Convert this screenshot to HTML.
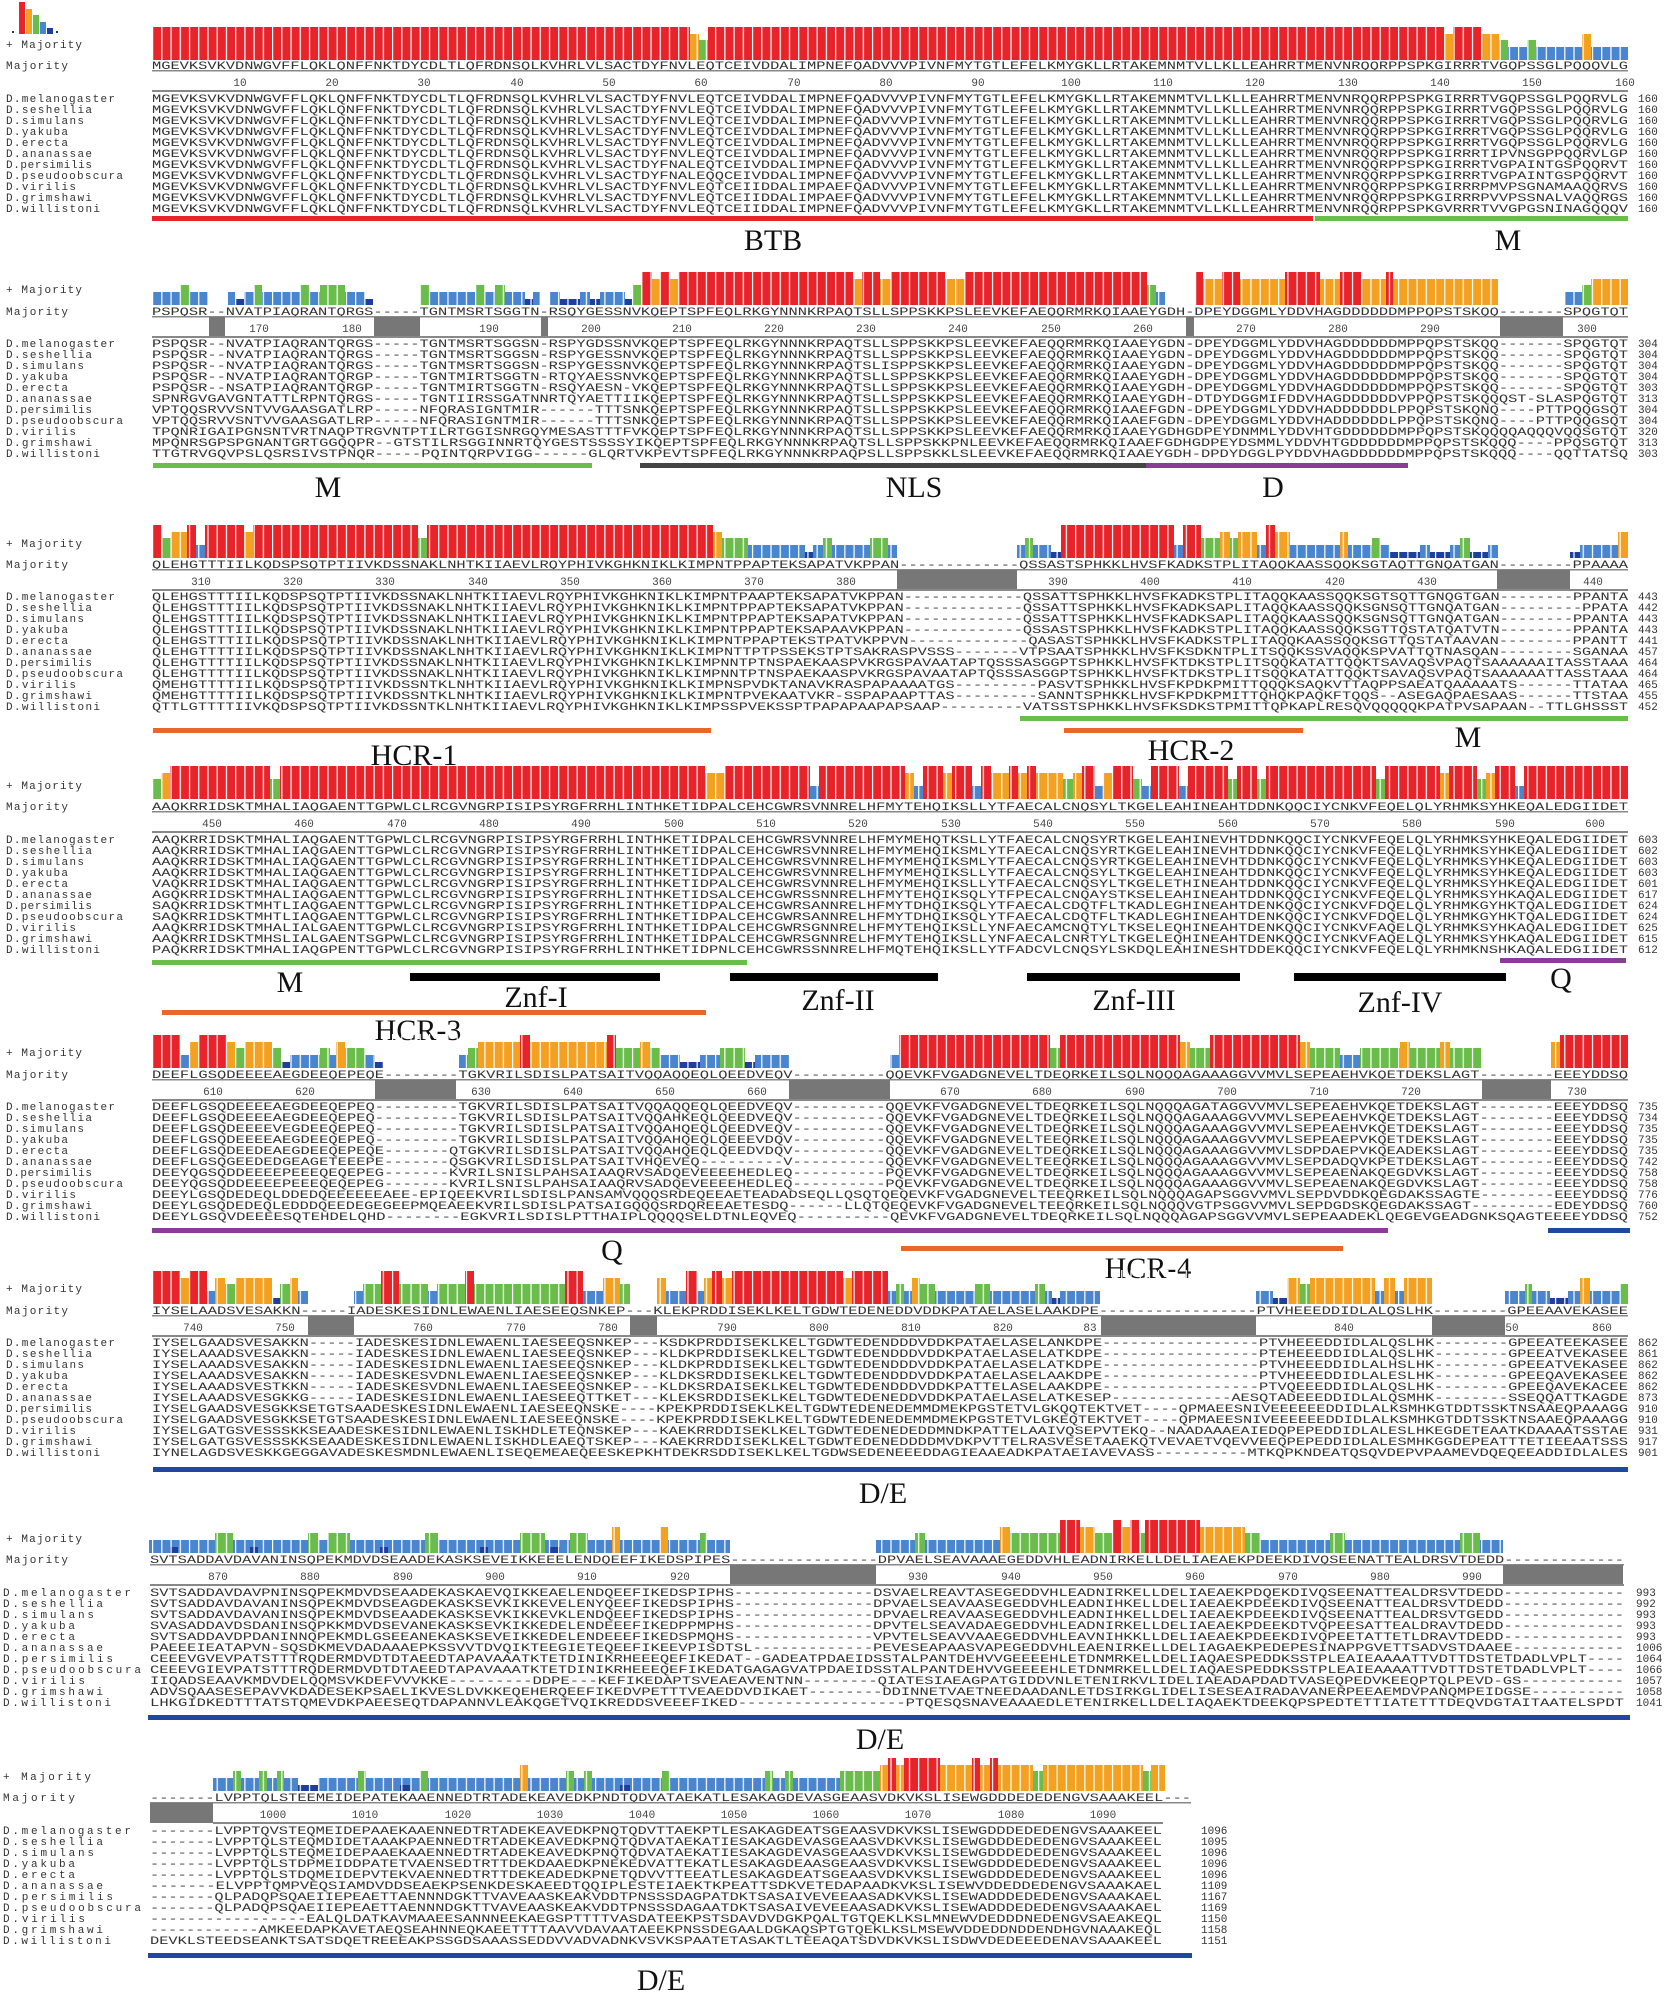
<!DOCTYPE html>
<html><head><meta charset="utf-8"><style>
html,body{margin:0;padding:0;background:#fff}
svg{display:block}
.s{font-family:"Liberation Mono",monospace;font-size:11px;fill:#333}
.n{font-family:"Liberation Mono",monospace;font-size:11px;fill:#444;text-anchor:middle}
.lab{font-family:"Liberation Serif",serif;font-size:30px;fill:#111;text-anchor:middle}
.r{fill:#e8232a}.o{fill:#f4a020}.g{fill:#6abd4b}.b{fill:#4a86d0}.d{fill:#1f3f9e}
.gap{fill:#777}
</style></head><body>
<svg width="1671" height="1999" viewBox="0 0 1671 1999" xmlns="http://www.w3.org/2000/svg">
<defs><pattern id="p" x="152" y="0" width="9.23" height="40" patternUnits="userSpaceOnUse"><rect x="0" y="0" width="1.2" height="40" fill="#fff"/></pattern></defs>
<rect width="1671" height="1999" fill="#fff"/>
<rect x="19" y="2" width="6" height="32" class="r"/><rect x="26" y="9" width="6" height="25" class="o"/><rect x="33" y="15" width="6" height="19" class="g"/><rect x="40" y="22" width="6" height="12" class="b"/><rect x="47" y="28" width="6" height="6" class="d"/>
<rect x="12" y="31" width="2" height="2" fill="#333"/><rect x="56" y="31" width="2" height="2" fill="#333"/>

<!-- ================= BLOCK 1 ================= -->
<g transform="translate(0,60)">
<rect x="152" y="-33" width="538" height="33" class="r"/><rect x="690" y="-26" width="9" height="26" class="o"/><rect x="699" y="-20" width="9" height="20" class="g"/><rect x="708" y="-33" width="736" height="33" class="r"/><rect x="1444" y="-26" width="9" height="26" class="o"/><rect x="1453" y="-33" width="28" height="33" class="r"/><rect x="1481" y="-26" width="18" height="26" class="o"/><rect x="1499" y="-20" width="9" height="20" class="g"/><rect x="1508" y="-13" width="19" height="13" class="b"/><rect x="1527" y="-20" width="9" height="20" class="g"/><rect x="1536" y="-13" width="46" height="13" class="b"/><rect x="1582" y="-26" width="9" height="26" class="o"/><rect x="1591" y="-13" width="37" height="13" class="b"/>
<rect x="152" y="-34" width="1476" height="34" fill="url(#p)"/>
</g>
<text x="6" y="48" class="s" textLength="76">+ Majority</text>
<text x="6" y="69" class="s" textLength="62">Majority</text>
<text x="152" y="69" class="s" textLength="1476" lengthAdjust="spacingAndGlyphs">MGEVKSVKVDNWGVFFLQKLQNFFNKTDYCDLTLQFRDNSQLKVHRLVLSACTDYFNVLEQTCEIVDDALIMPNEFQADVVVPIVNFMYTGTLEFELKMYGKLLRTAKEMNMTVLLKLLEAHRRTMENVNRQQRPPSPKGIRRRTVGQPSSGLPQQQVLG</text>
<rect x="152" y="70" width="1476" height="1.5" fill="#888"/>
<rect x="152" y="90" width="1476" height="2" fill="#888"/>
<g class="n"><text x="240" y="86">10</text><text x="332" y="86">20</text><text x="424" y="86">30</text><text x="517" y="86">40</text><text x="609" y="86">50</text><text x="701" y="86">60</text><text x="794" y="86">70</text><text x="886" y="86">80</text><text x="978" y="86">90</text><text x="1071" y="86">100</text><text x="1163" y="86">110</text><text x="1255" y="86">120</text><text x="1348" y="86">130</text><text x="1440" y="86">140</text><text x="1532" y="86">150</text><text x="1625" y="86">160</text></g>
<g class="s">
<text x="6" y="102" textLength="109">D.melanogaster</text><text x="6" y="113" textLength="86">D.seshellia</text><text x="6" y="124" textLength="78">D.simulans</text><text x="6" y="135" textLength="62">D.yakuba</text><text x="6" y="146" textLength="62">D.erecta</text><text x="6" y="157" textLength="86">D.ananassae</text><text x="6" y="168" textLength="86">D.persimilis</text><text x="6" y="179" textLength="117">D.pseudoobscura</text><text x="6" y="190" textLength="70">D.virilis</text><text x="6" y="201" textLength="86">D.grimshawi</text><text x="6" y="212" textLength="94">D.willistoni</text>
</g>
<g class="s">
<text x="152" y="102" textLength="1476" lengthAdjust="spacingAndGlyphs">MGEVKSVKVDNWGVFFLQKLQNFFNKTDYCDLTLQFRDNSQLKVHRLVLSACTDYFNVLEQTCEIVDDALIMPNEFQADVVVPIVNFMYTGTLEFELKMYGKLLRTAKEMNMTVLLKLLEAHRRTMENVNRQQRPPSPKGIRRRTVGQPSSGLPQQRVLG</text>
<text x="152" y="113" textLength="1476" lengthAdjust="spacingAndGlyphs">MGEVKSVKVDNWGVFFLQKLQNFFNKTDYCDLTLQFRDNSQLKVHRLVLSACTDYFNVLEQTCEIVDDALIMPNEFQADVVVPIVNFMYTGTLEFELKMYGKLLRTAKEMNMTVLLKLLEAHRRTMENVNRQQRPPSPKGIRRRTVGQPSSGLPQQRVLG</text>
<text x="152" y="124" textLength="1476" lengthAdjust="spacingAndGlyphs">MGEVKSVKVDNWGVFFLQKLQNFFNKTDYCDLTLQFRDNSQLKVHRLVLSACTDYFNVLEQTCEIVDDALIMPNEFQADVVVPIVNFMYTGTLEFELKMYGKLLRTAKEMNMTVLLKLLEAHRRTMENVNRQQRPPSPKGIRRRTVGQPSSGLPQQRVLG</text>
<text x="152" y="135" textLength="1476" lengthAdjust="spacingAndGlyphs">MGEVKSVKVDNWGVFFLQKLQNFFNKTDYCDLTLQFRDNSQLKVHRLVLSACTDYFNVLEQTCEIVDDALIMPNEFQADVVVPIVNFMYTGTLEFELKMYGKLLRTAKEMNMTVLLKLLEAHRRTMENVNRQQRPPSPKGIRRRTVGQPSSGLPQQRVLG</text>
<text x="152" y="146" textLength="1476" lengthAdjust="spacingAndGlyphs">MGEVKSVKVDNWGVFFLQKLQNFFNKTDYCDLTLQFRDNSQLKVHRLVLSACTDYFNVLEQTCEIVDDALIMPNEFQADVVVPIVNFMYTGTLEFELKMYGKLLRTAKEMNMTVLLKLLEAHRRTMENVNRQQRPPSPKGIRRRTVGQPSSGLPQQRVLG</text>
<text x="152" y="157" textLength="1476" lengthAdjust="spacingAndGlyphs">MGEVKSVKVDNWGVFFLQKLQNFFNKTDYCDLTLQFRDNSQLKVHRLVLSACTDYFNVLEQTCEIVDDALIMPNEFQADVVVPIVNFMYTGTLEFELKMYGKLLRTAKEMNMTVLLKLLEAHRRTMENVNRQQRPPSPKGIRRRTIPVNSGPPQQRVLGP</text>
<text x="152" y="168" textLength="1476" lengthAdjust="spacingAndGlyphs">MGEVKSVKVDNWGVFFLQKLQNFFNKTDYCDLTLQFRDNSQLKVHRLVLSACTDYFNALEQTCEIVDDALIMPNEFQADVVVPIVNFMYTGTLEFELKMYGKLLRTAKEMNMTVLLKLLEAHRRTMENVNRQQRPPSPKGIRRRTVGPAINTGSPQQRVT</text>
<text x="152" y="179" textLength="1476" lengthAdjust="spacingAndGlyphs">MGEVKSVKVDNWGVFFLQKLQNFFNKTDYCDLTLQFRDNSQLKVHRLVLSACTDYFNALEQQCEIVDDALIMPNEFQADVVVPIVNFMYTGTLEFELKMYGKLLRTAKEMNMTVLLKLLEAHRRTMENVNRQQRPPSPKGIRRRTVGPAINTGSPQQRVT</text>
<text x="152" y="190" textLength="1476" lengthAdjust="spacingAndGlyphs">MGEVKSVKVDNWGVFFLQKLQNFFNKTDYCDLTLQFRDNSQLKVHRLVLSACTDYFNVLEQTCEIIDDALIMPAEFQADVVVPIVNFMYTGTLEFELKMYGKLLRTAKEMNMTVLLKLLEAHRRTMENVNRQQRPPSPKGIRRRPMVPSGNAMAAQQRVS</text>
<text x="152" y="201" textLength="1476" lengthAdjust="spacingAndGlyphs">MGEVKSVKVDNWGVFFLQKLQNFFNKTDYCDLTLQFRDNSQLKVHRLVLSACTDYFNVLEQTCEIIDDALIMPAEFQADVVVPIVNFMYTGTLEFELKMYGKLLRTAKEMNMTVLLKLLEAHRRTMENVNRQQRPPSPKGIRRRPVVPSSNALVAQQRGS</text>
<text x="152" y="212" textLength="1476" lengthAdjust="spacingAndGlyphs">MGEVKSVKVDNWGVFFLQKLQNFFNKTDYCDLTLQFRDNSQLKVHRLVLSACTDYFNVLEQTCEIIDDALIMPNEFQADVVVPIVNFMYTGTLEFELKMYGKLLRTAKEMNMTVLLKLLEAHRRTMENVNRQQRPPSPKGVRRRTVVGPGSNINAGQQQV</text>
</g>
<g class="s"><text x="1638" y="102">160</text><text x="1638" y="113">160</text><text x="1638" y="124">160</text><text x="1638" y="135">160</text><text x="1638" y="146">160</text><text x="1638" y="157">160</text><text x="1638" y="168">160</text><text x="1638" y="179">160</text><text x="1638" y="190">160</text><text x="1638" y="201">160</text><text x="1638" y="212">160</text></g>
<rect x="152" y="216" width="1161" height="5" fill="#e8232a"/><rect x="1315" y="216" width="313" height="5" fill="#6abd4b"/>
<text x="773" y="250" class="lab">BTB</text><text x="1508" y="250" class="lab">M</text>

<!-- ================= BLOCK 2 ================= -->
<g transform="translate(0,305)">
<rect x="153" y="-13" width="27" height="13" class="b"/><rect x="180" y="-20" width="10" height="20" class="g"/><rect x="190" y="-13" width="18" height="13" class="b"/>
<rect x="228" y="-13" width="8" height="13" class="b"/><rect x="236" y="-6" width="8" height="6" class="d"/><rect x="244" y="-13" width="10" height="13" class="b"/><rect x="254" y="-20" width="8" height="20" class="g"/><rect x="262" y="-13" width="38" height="13" class="b"/><rect x="300" y="-20" width="10" height="20" class="g"/><rect x="310" y="-13" width="10" height="13" class="b"/><rect x="320" y="-20" width="25" height="20" class="g"/><rect x="345" y="-13" width="20" height="13" class="b"/><rect x="365" y="-6" width="8" height="6" class="d"/>
<rect x="420" y="-20" width="10" height="20" class="g"/><rect x="430" y="-13" width="45" height="13" class="b"/><rect x="475" y="-20" width="10" height="20" class="g"/><rect x="485" y="-13" width="10" height="13" class="b"/><rect x="495" y="-20" width="10" height="20" class="g"/><rect x="505" y="-13" width="20" height="13" class="b"/><rect x="525" y="-6" width="8" height="6" class="d"/><rect x="533" y="-13" width="7" height="13" class="b"/>
<rect x="550" y="-13" width="10" height="13" class="b"/><rect x="560" y="-6" width="20" height="6" class="d"/><rect x="580" y="-13" width="10" height="13" class="b"/><rect x="590" y="-6" width="10" height="6" class="d"/><rect x="600" y="-13" width="25" height="13" class="b"/><rect x="625" y="-6" width="8" height="6" class="d"/><rect x="633" y="-20" width="9" height="20" class="g"/>
<rect x="642" y="-33" width="10" height="33" class="r"/><rect x="652" y="-26" width="8" height="26" class="o"/><rect x="660" y="-33" width="10" height="33" class="r"/><rect x="670" y="-26" width="8" height="26" class="o"/><rect x="678" y="-33" width="175" height="33" class="r"/><rect x="853" y="-26" width="9" height="26" class="o"/><rect x="862" y="-33" width="18" height="33" class="r"/><rect x="880" y="-26" width="11" height="26" class="o"/><rect x="891" y="-33" width="54" height="33" class="r"/><rect x="945" y="-26" width="20" height="26" class="o"/><rect x="965" y="-33" width="182" height="33" class="r"/><rect x="1147" y="-20" width="9" height="20" class="g"/><rect x="1156" y="-13" width="9" height="13" class="b"/>
<rect x="1195" y="-33" width="8" height="33" class="r"/><rect x="1203" y="-26" width="19" height="26" class="o"/><rect x="1222" y="-33" width="18" height="33" class="r"/><rect x="1240" y="-26" width="45" height="26" class="o"/><rect x="1285" y="-33" width="35" height="33" class="r"/><rect x="1320" y="-26" width="20" height="26" class="o"/><rect x="1340" y="-33" width="22" height="33" class="r"/><rect x="1362" y="-26" width="24" height="26" class="o"/><rect x="1386" y="-33" width="7" height="33" class="r"/><rect x="1393" y="-26" width="105" height="26" class="o"/>
<rect x="1565" y="-13" width="17" height="13" class="b"/><rect x="1582" y="-20" width="9" height="20" class="g"/><rect x="1591" y="-26" width="37" height="26" class="o"/>
<rect x="152" y="-34" width="1476" height="34" fill="url(#p)"/>
</g>
<text x="6" y="293" class="s" textLength="76">+ Majority</text>
<text x="6" y="315" class="s" textLength="62">Majority</text>
<text x="152" y="315" class="s" textLength="1476" lengthAdjust="spacingAndGlyphs">PSPQSR--NVATPIAQRANTQRGS-----TGNTMSRTSGGTN-RSQYGESSNVKQEPTSPFEQLRKGYNNNKRPAQTSLLSPPSKKPSLEEVKEFAEQQRMRKQIAAEYGDH-DPEYDGGMLYDDVHAGDDDDDDMPPQPSTSKQQ-------SPQGTQT</text>
<rect x="152" y="316" width="1476" height="1.5" fill="#888"/>
<rect x="209" y="317" width="16" height="20" class="gap"/><rect x="374" y="317" width="46" height="20" class="gap"/><rect x="541" y="317" width="7" height="20" class="gap"/><rect x="1186" y="317" width="8" height="20" class="gap"/><rect x="1500" y="317" width="63" height="20" class="gap"/>
<rect x="152" y="336" width="1476" height="2" fill="#888"/>
<g class="n"><text x="259" y="332">170</text><text x="352" y="332">180</text><text x="489" y="332">190</text><text x="591" y="332">200</text><text x="682" y="332">210</text><text x="774" y="332">220</text><text x="866" y="332">230</text><text x="958" y="332">240</text><text x="1051" y="332">250</text><text x="1143" y="332">260</text><text x="1246" y="332">270</text><text x="1338" y="332">280</text><text x="1430" y="332">290</text><text x="1587" y="332">300</text></g>
<g class="s">
<text x="6" y="347" textLength="109">D.melanogaster</text><text x="6" y="358" textLength="86">D.seshellia</text><text x="6" y="369" textLength="78">D.simulans</text><text x="6" y="380" textLength="62">D.yakuba</text><text x="6" y="391" textLength="62">D.erecta</text><text x="6" y="402" textLength="86">D.ananassae</text><text x="6" y="413" textLength="86">D.persimilis</text><text x="6" y="424" textLength="117">D.pseudoobscura</text><text x="6" y="435" textLength="70">D.virilis</text><text x="6" y="446" textLength="86">D.grimshawi</text><text x="6" y="457" textLength="94">D.willistoni</text>
</g>
<g class="s">
<text x="152" y="347" textLength="1476" lengthAdjust="spacingAndGlyphs">PSPQSR--NVATPIAQRANTQRGS-----TGNTMSRTSGGSN-RSPYGDSSNVKQEPTSPFEQLRKGYNNNKRPAQTSLLSPPSKKPSLEEVKEFAEQQRMRKQIAAEYGDN-DPEYDGGMLYDDVHAGDDDDDDMPPQPSTSKQQ-------SPQGTQT</text>
<text x="152" y="358" textLength="1476" lengthAdjust="spacingAndGlyphs">PSPQSR--NVATPIAQRANTQRGS-----TGNTMSRTSGGSN-RSPYGESSNVKQEPTSPFEQLRKGYNNNKRPAQTSLLSPPSKKPSLEEVKEFAEQQRMRKQIAAEYGDN-DPEYDGGMLYDDVHAGDDDDDDMPPQPSTSKQQ-------SPQGTQT</text>
<text x="152" y="369" textLength="1476" lengthAdjust="spacingAndGlyphs">PSPQSR--NVATPIAQRANTQRGS-----TGNTMSRTSGGSN-RSPYGESSNVKQEPTSPFEQLRKGYNNNKRPAQTSLISPPSKKPSLEEVKEFAEQQRMRKQIAAEYGDN-DPEYDGGMLYDDVHAGDDDDDDMPPQPSTSKQQ-------SPQGTQT</text>
<text x="152" y="380" textLength="1476" lengthAdjust="spacingAndGlyphs">PSPQSR--NVATPIAQRANTQRGP-----TGNTMIRTSGGTN-RTQYAESSNVKQEPTSPFEQLRKGYNNNKRPAQTSLLSPPSKKPSLEEVKEFAEQQRMRKQIAAEYGDH-DPEYDGGMLYDDVHAGDDDDDDMPPQPSTSKQQ-------SPQGTQT</text>
<text x="152" y="391" textLength="1476" lengthAdjust="spacingAndGlyphs">PSPQSR--NSATPIAQRANTQRGP-----TGNTMIRTSGGTN-RSQYAESN-VKQEPTSPFEQLRKGYNNNKRPAQTSLLSPPSKKPSLEEVKEFAEQQRMRKQIAAEYGDH-DPEYDGGMLYDDVHAGDDDDDDMPPQPSTSKQQ-------SPQGTQT</text>
<text x="152" y="402" textLength="1476" lengthAdjust="spacingAndGlyphs">SPNRGVGAVGNTATTLRPNTQRGS-----TGNTIIRSSGATNNRTQYAETTIIKQEPTSPFEQLRKGYNNNKRPAQTSLLSPPSKKPSLEEVKEFAEQQRMRKQIAAEYGDH-DTDYDGGMIFDDVHAGDDDDDDVPPQPSTSKQQQST-SLASPQGTQT</text>
<text x="152" y="413" textLength="1476" lengthAdjust="spacingAndGlyphs">VPTQQSRVVSNTVVGAASGATLRP-----NFQRASIGNTMIR------TTTSNKQEPTSPFEQLRKGYNNNKRPAQTSLLSPPSKKPSLEEVKEFAEQQRMRKQIAAEFGDN-DPEYDGGMLYDDVHADDDDDDLPPQPSTSKQNQ----PTTPQQGSQT</text>
<text x="152" y="424" textLength="1476" lengthAdjust="spacingAndGlyphs">VPTQQSRVVSNTVVGAASGATLRP-----NFQRASIGNTMIR------TTTSNKQEPTSPFEQLRKGYNNNKRPAQTSLLSPPSKKPSLEEVKEFAEQQRMRKQIAAEFGDN-DPEYDGGMLYDDVHADDDDDDLPPQPSTSKQNQ----PTTPQQGSQT</text>
<text x="152" y="435" textLength="1476" lengthAdjust="spacingAndGlyphs">TPQNRIGAIPGNSNTVRTNAQPTRGVNTPTILRTGGISNRGQYMESASTTTFVKQEPTSPFEQLRKGYNNNKRPAQTSLLSPPSKKPSLEEVKEFAEQQRMRKQIAAEYGDHGDPEYDNMMLYDDVHTGDDDDDDMPPQPSTSKQQQQAQQQVQQSGTQT</text>
<text x="152" y="446" textLength="1476" lengthAdjust="spacingAndGlyphs">MPQNRSGPSPGNANTGRTGGQQPR--GTSTILRSGGINNRTQYGESTSSSSYIKQEPTSPFEQLRKGYNNNKRPAQTSLLSPPSKKPNLEEVKEFAEQQRMRKQIAAEFGDHGDPEYDSMMLYDDVHTGDDDDDDMPPQPSTSKQQQ----PPQSGTQT</text>
<text x="152" y="457" textLength="1476" lengthAdjust="spacingAndGlyphs">TTGTRVGQVPSLQSRSIVSTPNQR-----PQINTQRPVIGG------GLQRTVKPEVTSPFEQLRKGYNNNKRPAQPSLLSPPSKKLSLEEVKEFAEQQRMRKQIAAEYGDH-DPDYDGGLPYDDVHAGDDDDDDMPPQPSTSKQQQ----QQTTATSQ</text>
</g>
<g class="s"><text x="1638" y="347">304</text><text x="1638" y="358">304</text><text x="1638" y="369">304</text><text x="1638" y="380">304</text><text x="1638" y="391">303</text><text x="1638" y="402">313</text><text x="1638" y="413">304</text><text x="1638" y="424">304</text><text x="1638" y="435">320</text><text x="1638" y="446">313</text><text x="1638" y="457">303</text></g>
<rect x="153" y="463" width="439" height="5" fill="#6abd4b"/><rect x="640" y="463" width="506" height="5" fill="#444"/><rect x="1146" y="463" width="262" height="5" fill="#8a3d96"/>
<text x="328" y="497" class="lab">M</text><text x="914" y="497" class="lab">NLS</text><text x="1273" y="497" class="lab">D</text>

<!-- ================= BLOCK 3 ================= -->
<g transform="translate(0,558)">
<rect x="153" y="-33" width="9" height="33" class="r"/><rect x="162" y="-20" width="9" height="20" class="g"/><rect x="171" y="-26" width="16" height="26" class="o"/><rect x="187" y="-33" width="9" height="33" class="r"/><rect x="196" y="-13" width="9" height="13" class="b"/><rect x="205" y="-33" width="39" height="33" class="r"/><rect x="244" y="-26" width="9" height="26" class="o"/><rect x="253" y="-33" width="165" height="33" class="r"/><rect x="418" y="-20" width="9" height="20" class="g"/><rect x="427" y="-33" width="286" height="33" class="r"/><rect x="713" y="-26" width="9" height="26" class="o"/><rect x="722" y="-20" width="26" height="20" class="g"/><rect x="748" y="-13" width="57" height="13" class="b"/><rect x="805" y="-6" width="8" height="6" class="d"/><rect x="813" y="-13" width="10" height="13" class="b"/><rect x="823" y="-20" width="9" height="20" class="g"/><rect x="832" y="-13" width="38" height="13" class="b"/><rect x="870" y="-20" width="18" height="20" class="g"/><rect x="888" y="-13" width="9" height="13" class="b"/>
<rect x="1017" y="-13" width="8" height="13" class="b"/><rect x="1025" y="-20" width="8" height="20" class="g"/><rect x="1033" y="-13" width="18" height="13" class="b"/><rect x="1051" y="-6" width="10" height="6" class="d"/><rect x="1061" y="-33" width="113" height="33" class="r"/><rect x="1174" y="-13" width="9" height="13" class="b"/><rect x="1183" y="-33" width="18" height="33" class="r"/><rect x="1201" y="-20" width="19" height="20" class="g"/><rect x="1220" y="-26" width="10" height="26" class="o"/><rect x="1230" y="-20" width="8" height="20" class="g"/><rect x="1238" y="-26" width="19" height="26" class="o"/><rect x="1257" y="-13" width="9" height="13" class="b"/><rect x="1266" y="-33" width="9" height="33" class="r"/><rect x="1275" y="-26" width="15" height="26" class="o"/><rect x="1290" y="-13" width="50" height="13" class="b"/><rect x="1340" y="-26" width="8" height="26" class="o"/><rect x="1348" y="-13" width="24" height="13" class="b"/><rect x="1372" y="-20" width="8" height="20" class="g"/><rect x="1380" y="-13" width="10" height="13" class="b"/><rect x="1390" y="-6" width="30" height="6" class="d"/><rect x="1420" y="-13" width="10" height="13" class="b"/><rect x="1430" y="-6" width="20" height="6" class="d"/><rect x="1450" y="-13" width="10" height="13" class="b"/><rect x="1460" y="-20" width="10" height="20" class="g"/><rect x="1470" y="-6" width="18" height="6" class="d"/><rect x="1488" y="-13" width="10" height="13" class="b"/>
<rect x="1570" y="-6" width="10" height="6" class="d"/><rect x="1580" y="-13" width="38" height="13" class="b"/><rect x="1618" y="-26" width="10" height="26" class="o"/>
<rect x="152" y="-34" width="1476" height="34" fill="url(#p)"/>
</g>
<text x="6" y="547" class="s" textLength="76">+ Majority</text>
<text x="6" y="568" class="s" textLength="62">Majority</text>
<text x="152" y="568" class="s" textLength="1476" lengthAdjust="spacingAndGlyphs">QLEHGTTTIILKQDSPSQTPTIIVKDSSNAKLNHTKIIAEVLRQYPHIVKGHKNIKLKIMPNTPPAPTEKSAPATVKPPAN-------------QSSASTSPHKKLHVSFKADKSTPLITAQQKAASSQQKSGTAQTTGNQATGAN--------PPAAAA</text>
<rect x="152" y="569" width="1476" height="1.5" fill="#888"/>
<rect x="897" y="570" width="120" height="20" class="gap"/><rect x="1497" y="570" width="73" height="20" class="gap"/>
<rect x="152" y="589" width="1476" height="2" fill="#888"/>
<g class="n"><text x="201" y="585">310</text><text x="293" y="585">320</text><text x="385" y="585">330</text><text x="478" y="585">340</text><text x="570" y="585">350</text><text x="662" y="585">360</text><text x="754" y="585">370</text><text x="846" y="585">380</text><text x="1058" y="585">390</text><text x="1150" y="585">400</text><text x="1242" y="585">410</text><text x="1335" y="585">420</text><text x="1427" y="585">430</text><text x="1593" y="585">440</text></g>
<g class="s">
<text x="6" y="600" textLength="109">D.melanogaster</text><text x="6" y="611" textLength="86">D.seshellia</text><text x="6" y="622" textLength="78">D.simulans</text><text x="6" y="633" textLength="62">D.yakuba</text><text x="6" y="644" textLength="62">D.erecta</text><text x="6" y="655" textLength="86">D.ananassae</text><text x="6" y="666" textLength="86">D.persimilis</text><text x="6" y="677" textLength="117">D.pseudoobscura</text><text x="6" y="688" textLength="70">D.virilis</text><text x="6" y="699" textLength="86">D.grimshawi</text><text x="6" y="710" textLength="94">D.willistoni</text>
</g>
<g class="s">
<text x="152" y="600" textLength="1476" lengthAdjust="spacingAndGlyphs">QLEHGSTTTIILKQDSPSQTPTIIVKDSSNAKLNHTKIIAEVLRQYPHIVKGHKNIKLKIMPNTPAAPTEKSAPATVKPPAN-------------QSSATTSPHKKLHVSFKADKSTPLITAQQKAASSQQKSGTSQTTGNQGTGAN--------PPANTA</text>
<text x="152" y="611" textLength="1476" lengthAdjust="spacingAndGlyphs">QLEHGSTTTIILKQDSPSQTPTIIVKDSSNAKLNHTKIIAEVLRQYPHIVKGHKNIKLKIMPNTPPAPTEKSAPATVKPPAN-------------QSSATTSPHKKLHVSFKADKSAPLITAQQKAASSQQKSGNSQTTGNQATGAN---------PPATA</text>
<text x="152" y="622" textLength="1476" lengthAdjust="spacingAndGlyphs">QLEHGSTTTIILKQDSPSQTPTIIVKDSSNAKLNHTKIIAEVLRQYPHIVKGHKNIKLKIMPNTPPAPTEKSAPATVKPPAN-------------QSSATTSPHKKLHVSFKADKSAPLITAQQKAASSQQKSGNSQTTGNQATGAN--------PPANTA</text>
<text x="152" y="633" textLength="1476" lengthAdjust="spacingAndGlyphs">QLEHGSTTTIILKQDSPSQTPTIIVKDSSNAKLNHTKIIAEVLRQYPHIVKGHKNIKLKIMPNTPPAPTEKSAPAAVKPPAN-------------QSSASTSPHKKLHVSFKADKSTPLITAQQKAASSQQKSGTTQSTATQATVTN--------PPANTA</text>
<text x="152" y="644" textLength="1476" lengthAdjust="spacingAndGlyphs">QLEHGSTTTIILKQDSPSQTPTIIVKDSSNAKLNHTKIIAEVLRQYPHIVKGHKNIKLKIMPNTPPAPTEKSTPATVKPPVN-------------QASASTSPHKKLHVSFKADKSTPLITAQQKAASSQQKSGTTQSTATAAVAN--------PPANTT</text>
<text x="152" y="655" textLength="1476" lengthAdjust="spacingAndGlyphs">QLEHGTTTTIILKQDSPSQTPTIIVKDSSNAKLNHTKIIAEVLRQYPHIVKGHKNIKLKIMPNTTPTPSSEKSTPTSAKRASPVSSS-------VTPSAATSPHKKLHVSFKSDKNTPLITSQQKSSVAQQKSPVATTQTNASQAN--------SGANAA</text>
<text x="152" y="666" textLength="1476" lengthAdjust="spacingAndGlyphs">QLEHGTTTTIILKQDSPSQTPTIIVKDSSNAKLNHTKIIAEVLRQYPHIVKGHKNIKLKIMPNNTPTNSPAEKAASPVKRGSPAVAATAPTQSSSASGGPTSPHKKLHVSFKTDKSTPLITSQQKATATTQQKTSAVAQSVPAQTSAAAAAAITASSTAAA</text>
<text x="152" y="677" textLength="1476" lengthAdjust="spacingAndGlyphs">QLEHGTTTTIILKQDSPSQTPTIIVKDSSNAKLNHTKIIAEVLRQYPHIVKGHKNIKLKIMPNNTPTNSPAEKAASPVKRGSPAVAATAPTQSSSASGGPTSPHKKLHVSFKTDKSTPLITSQQKATATTQQKTSAVAQSVPAQTSAAAAAATTASSTAAA</text>
<text x="152" y="688" textLength="1476" lengthAdjust="spacingAndGlyphs">QMEHGTTTTIILKQDSPSQTPTIIVKDSSNTKLNHTKIIAEVLRQYPHIVKGHKNIKLKIMPNSPVDKTANAVKRASPAPAAAATGS---------PASVTSPHKKLHVSFKPDKPMITTQQQKSAQKVTTAQPPSAEATQAAAAATS------TTATAA</text>
<text x="152" y="699" textLength="1476" lengthAdjust="spacingAndGlyphs">QMEHGTTTTIILKQDSPSQTPTIIVKDSSNTKLNHTKIIAEVLRQYPHIVKGHKNIKLKIMPNTPVEKAATVKR-SSPAPAAPTTAS---------SANNTSPHKKLHVSFKPDKPMITTQHQKPAQKFTQQS--ASEGAQPAESAAS------TTSTAA</text>
<text x="152" y="710" textLength="1476" lengthAdjust="spacingAndGlyphs">QTTLGTTTTIIVKQDSPSQTPTIIVKDSSNTKLNHTKIIAEVLRQYPHIVKGHKNIKLKIMPSSPVEKSSPTPAPAPAAPAPSAAP---------VATSSTSPHKKLHVSFKSDKSTPMITTQPKAPLRESQVQQQQQKPATPVSAPAAN--TTLGHSSST</text>
</g>
<g class="s"><text x="1638" y="600">443</text><text x="1638" y="611">442</text><text x="1638" y="622">443</text><text x="1638" y="633">443</text><text x="1638" y="644">441</text><text x="1638" y="655">457</text><text x="1638" y="666">464</text><text x="1638" y="677">464</text><text x="1638" y="688">465</text><text x="1638" y="699">455</text><text x="1638" y="710">452</text></g>
<rect x="1020" y="716" width="608" height="5" fill="#6abd4b"/>
<rect x="153" y="728" width="558" height="5" fill="#e9672a"/><rect x="1064" y="728" width="239" height="5" fill="#e9672a"/>
<text x="414" y="765" class="lab">HCR-1</text><text x="1191" y="760" class="lab">HCR-2</text><text x="1468" y="747" class="lab">M</text>

<!-- ================= BLOCK 4 ================= -->
<g transform="translate(0,799)">
<rect x="152" y="-20" width="9" height="20" class="g"/><rect x="161" y="-26" width="9" height="26" class="o"/><rect x="170" y="-33" width="100" height="33" class="r"/><rect x="270" y="-20" width="10" height="20" class="g"/><rect x="280" y="-33" width="425" height="33" class="r"/><rect x="705" y="-26" width="20" height="26" class="o"/><rect x="725" y="-33" width="85" height="33" class="r"/><rect x="810" y="-13" width="9" height="13" class="b"/><rect x="819" y="-33" width="86" height="33" class="r"/><rect x="905" y="-26" width="9" height="26" class="o"/><rect x="914" y="-13" width="9" height="13" class="b"/><rect x="923" y="-33" width="20" height="33" class="r"/><rect x="943" y="-26" width="9" height="26" class="o"/><rect x="952" y="-33" width="20" height="33" class="r"/><rect x="972" y="-13" width="9" height="13" class="b"/><rect x="981" y="-33" width="10" height="33" class="r"/><rect x="991" y="-26" width="18" height="26" class="o"/><rect x="1009" y="-33" width="9" height="33" class="r"/><rect x="1018" y="-26" width="9" height="26" class="o"/><rect x="1027" y="-33" width="9" height="33" class="r"/><rect x="1036" y="-26" width="18" height="26" class="o"/><rect x="1054" y="-26" width="9" height="26" class="o"/><rect x="1063" y="-20" width="10" height="20" class="g"/><rect x="1073" y="-26" width="9" height="26" class="o"/><rect x="1082" y="-33" width="13" height="33" class="r"/><rect x="1095" y="-13" width="9" height="13" class="b"/><rect x="1104" y="-26" width="9" height="26" class="o"/><rect x="1113" y="-33" width="20" height="33" class="r"/><rect x="1133" y="-20" width="9" height="20" class="g"/><rect x="1142" y="-13" width="9" height="13" class="b"/><rect x="1151" y="-33" width="28" height="33" class="r"/><rect x="1179" y="-13" width="9" height="13" class="b"/><rect x="1188" y="-33" width="40" height="33" class="r"/><rect x="1228" y="-20" width="9" height="20" class="g"/><rect x="1237" y="-33" width="20" height="33" class="r"/><rect x="1257" y="-20" width="9" height="20" class="g"/><rect x="1266" y="-33" width="110" height="33" class="r"/><rect x="1376" y="-20" width="9" height="20" class="g"/><rect x="1385" y="-33" width="55" height="33" class="r"/><rect x="1440" y="-26" width="9" height="26" class="o"/><rect x="1449" y="-33" width="28" height="33" class="r"/><rect x="1477" y="-20" width="9" height="20" class="g"/><rect x="1486" y="-26" width="9" height="26" class="o"/><rect x="1495" y="-33" width="20" height="33" class="r"/><rect x="1515" y="-13" width="9" height="13" class="b"/><rect x="1524" y="-33" width="104" height="33" class="r"/>
<rect x="152" y="-34" width="1476" height="34" fill="url(#p)"/>
</g>
<text x="6" y="789" class="s" textLength="76">+ Majority</text>
<text x="6" y="810" class="s" textLength="62">Majority</text>
<text x="152" y="810" class="s" textLength="1476" lengthAdjust="spacingAndGlyphs">AAQKRRIDSKTMHALIAQGAENTTGPWLCLRCGVNGRPISIPSYRGFRRHLINTHKETIDPALCEHCGWRSVNNRELHFMYTEHQIKSLLYTFAECALCNQSYLTKGELEAHINEAHTDDNKQQCIYCNKVFEQELQLYRHMKSYHKEQALEDGIIDET</text>
<rect x="152" y="811" width="1476" height="1.5" fill="#888"/>
<rect x="152" y="831" width="1476" height="2" fill="#888"/>
<g class="n"><text x="212" y="827">450</text><text x="304" y="827">460</text><text x="397" y="827">470</text><text x="489" y="827">480</text><text x="581" y="827">490</text><text x="674" y="827">500</text><text x="766" y="827">510</text><text x="858" y="827">520</text><text x="951" y="827">530</text><text x="1043" y="827">540</text><text x="1135" y="827">550</text><text x="1228" y="827">560</text><text x="1320" y="827">570</text><text x="1412" y="827">580</text><text x="1505" y="827">590</text><text x="1595" y="827">600</text></g>
<g class="s">
<text x="6" y="843" textLength="109">D.melanogaster</text><text x="6" y="854" textLength="86">D.seshellia</text><text x="6" y="865" textLength="78">D.simulans</text><text x="6" y="876" textLength="62">D.yakuba</text><text x="6" y="887" textLength="62">D.erecta</text><text x="6" y="898" textLength="86">D.ananassae</text><text x="6" y="909" textLength="86">D.persimilis</text><text x="6" y="920" textLength="117">D.pseudoobscura</text><text x="6" y="931" textLength="70">D.virilis</text><text x="6" y="942" textLength="86">D.grimshawi</text><text x="6" y="953" textLength="94">D.willistoni</text>
</g>
<g class="s">
<text x="152" y="843" textLength="1476" lengthAdjust="spacingAndGlyphs">AAQKRRIDSKTMHALIAQGAENTTGPWLCLRCGVNGRPISIPSYRGFRRHLINTHKETIDPALCEHCGWRSVNNRELHFMYMEHQTKSLLYTFAECALCNQSYRTKGELEAHINEVHTDDNKQQCIYCNKVFEQELQLYRHMKSYHKEQALEDGIIDET</text>
<text x="152" y="854" textLength="1476" lengthAdjust="spacingAndGlyphs">AAQKRRIDSKTMHALIAQGAENTTGPWLCLRCGVNGRPISIPSYRGFRRHLINTHKETIDPALCEHCGWRSVNNRELHFMYMEHQIKSMLYTFAECALCNQSYRTKGELEAHINEVHTDDNKQQCIYCNKVFEQELQLYRHMKSYHKEQALEDGIIDET</text>
<text x="152" y="865" textLength="1476" lengthAdjust="spacingAndGlyphs">AAQKRRIDSKTMHALIAQGAENTTGPWLCLRCGVNGRPISIPSYRGFRRHLINTHKETIDPALCEHCGWRSVNNRELHFMYMEHQIKSMLYTFAECALCNQSYRTKGELEAHINEVHTDDNKQQCIYCNKVFEQELQLYRHMKSYHKEQALEDGIIDET</text>
<text x="152" y="876" textLength="1476" lengthAdjust="spacingAndGlyphs">AAQKRRIDSKTMHALIAQGAENTTGPWLCLRCGVNGRPISIPSYRGFRRHLINTHKETIDPALCEHCGWRSVNNRELHFMYMEHQIKSLLYTFAECALCNQSYLTKGELEAHINEAHTDDNKQQCIYCNKVFEQELQLYRHMKSYHKEQALEDGIIDET</text>
<text x="152" y="887" textLength="1476" lengthAdjust="spacingAndGlyphs">VAQKRRIDSKTMHALIAQGAENTTGPWLCLRCGVNGRPISIPSYRGFRRHLINTHKETIDPALCEHCGWRSVNNRELHFMYMEHQIKSLLYTFAECALCNQSYLTKGELETHINEAHTDDNKQQCIYCNKVFEQELQLYRHMKSYHKEQALEDGIIDET</text>
<text x="152" y="898" textLength="1476" lengthAdjust="spacingAndGlyphs">AGQKRRIDSKTMHALIAQGAENTTGPWLCLRCGVNGRPISIPSYRGFRRHLINTHKETIDSALCEHCGWRSSNNRELHFMYTEHQIKSQLYTFPECALCNQAYSTKSELEAHINEAHTDDNKQQCIYCNKVFEQELQLYRHMKSYHKAQALEDGIIDET</text>
<text x="152" y="909" textLength="1476" lengthAdjust="spacingAndGlyphs">SAQKRRIDSKTMHTLIAQGAENTTGPWLCLRCGVNGRPISIPSYRGFRRHLINTHKETIDPALCEHCGWRSANNRELHFMYTDHQIKSQLYTFAECALCDQTFLTKADLEGHINEAHTDENKQQCIYCNKVFDQELQLYRHMKGYHKTQALEDGIIDET</text>
<text x="152" y="920" textLength="1476" lengthAdjust="spacingAndGlyphs">SAQKRRIDSKTMHTLIAQGAENTTGPWLCLRCGVNGRPISIPSYRGFRRHLINTHKETIDPALCEHCGWRSANNRELHFMYTDHQIKSQLYTFAECALCDQTFLTKADLEGHINEAHTDENKQQCIYCNKVFDQELQLYRHMKGYHKTQALEDGIIDET</text>
<text x="152" y="931" textLength="1476" lengthAdjust="spacingAndGlyphs">AAQKRRIDSKTMHALIALGAENTTGPWLCLRCGVNGRPISIPSYRGFRRHLINTHKETIDPALCEHCGWRSGNNRELHFMYTEHQIKSLLYNFAECAMCNQTYLTKSELEQHINEAHTDENKQQCIYCNKVFAQELQLYRHMKSYHKAQALEDGIIDET</text>
<text x="152" y="942" textLength="1476" lengthAdjust="spacingAndGlyphs">AAQKRRIDSKTMHSLIALGAENTSGPWLCLRCGVNGRPISIPSYRGFRRHLINTHKETIDPALCEHCGWRSGNNRELHFMYTEHQIKSLLYNFAECALCNRTYLTKGELEQHINEAHTDENKQQCIYCNKVFAQELQLYRHMKSYHKAQALEDGIIDET</text>
<text x="152" y="953" textLength="1476" lengthAdjust="spacingAndGlyphs">PAQKRRIDSKTMHALIAQGPENTTGPWLCLRCGVNGRPISIPSYRGFRRHLINTHKETIDPNLCEHCGWRSSNNRELHFMQTEHQIKSLLYTFADCVLCNQSYLSKDQLEAHINESHTDDEKQQCIYCNKVFEQELQLYRHMKNSHKAQALEDGIIDET</text>
</g>
<g class="s"><text x="1638" y="843">603</text><text x="1638" y="854">602</text><text x="1638" y="865">603</text><text x="1638" y="876">603</text><text x="1638" y="887">601</text><text x="1638" y="898">617</text><text x="1638" y="909">624</text><text x="1638" y="920">624</text><text x="1638" y="931">625</text><text x="1638" y="942">615</text><text x="1638" y="953">612</text></g>
<rect x="152" y="960" width="595" height="5" fill="#6abd4b"/><rect x="1500" y="958" width="126" height="5" fill="#8a3d96"/>
<rect x="410" y="973" width="250" height="8" fill="#000"/><rect x="730" y="973" width="208" height="8" fill="#000"/><rect x="1027" y="973" width="213" height="8" fill="#000"/><rect x="1294" y="973" width="212" height="8" fill="#000"/>
<rect x="162" y="1010" width="544" height="5" fill="#e9672a"/>
<text x="290" y="992" class="lab">M</text><text x="536" y="1007" class="lab">Znf-I</text><text x="838" y="1010" class="lab">Znf-II</text><text x="1134" y="1010" class="lab">Znf-III</text><text x="1400" y="1012" class="lab">Znf-IV</text><text x="1561" y="988" class="lab">Q</text><text x="418" y="1040" class="lab">HCR-3</text>

<!-- ================= BLOCK 5 ================= -->
<g transform="translate(0,1068)">
<rect x="152" y="-33" width="28" height="33" class="r"/><rect x="180" y="-13" width="10" height="13" class="b"/><rect x="190" y="-26" width="9" height="26" class="o"/><rect x="199" y="-33" width="28" height="33" class="r"/><rect x="227" y="-26" width="9" height="26" class="o"/><rect x="236" y="-20" width="9" height="20" class="g"/><rect x="245" y="-26" width="27" height="26" class="o"/><rect x="272" y="-20" width="9" height="20" class="g"/><rect x="281" y="-6" width="9" height="6" class="d"/><rect x="290" y="-13" width="30" height="13" class="b"/><rect x="320" y="-20" width="10" height="20" class="g"/><rect x="330" y="-13" width="6" height="13" class="b"/><rect x="336" y="-26" width="9" height="26" class="o"/><rect x="345" y="-20" width="20" height="20" class="g"/><rect x="365" y="-13" width="10" height="13" class="b"/><rect x="375" y="-6" width="8" height="6" class="d"/>
<rect x="459" y="-13" width="9" height="13" class="b"/><rect x="468" y="-20" width="10" height="20" class="g"/><rect x="478" y="-26" width="42" height="26" class="o"/><rect x="520" y="-33" width="10" height="33" class="r"/><rect x="530" y="-26" width="77" height="26" class="o"/><rect x="607" y="-33" width="9" height="33" class="r"/><rect x="616" y="-20" width="24" height="20" class="g"/><rect x="640" y="-26" width="10" height="26" class="o"/><rect x="650" y="-20" width="10" height="20" class="g"/><rect x="660" y="-13" width="20" height="13" class="b"/><rect x="680" y="-6" width="20" height="6" class="d"/><rect x="700" y="-13" width="20" height="13" class="b"/><rect x="720" y="-20" width="25" height="20" class="g"/><rect x="745" y="-6" width="10" height="6" class="d"/><rect x="755" y="-13" width="34" height="13" class="b"/>
<rect x="890" y="-13" width="9" height="13" class="b"/><rect x="899" y="-33" width="151" height="33" class="r"/><rect x="1050" y="-20" width="10" height="20" class="g"/><rect x="1060" y="-33" width="120" height="33" class="r"/><rect x="1180" y="-26" width="10" height="26" class="o"/><rect x="1190" y="-20" width="20" height="20" class="g"/><rect x="1210" y="-33" width="90" height="33" class="r"/><rect x="1300" y="-26" width="10" height="26" class="o"/><rect x="1310" y="-20" width="30" height="20" class="g"/><rect x="1340" y="-13" width="20" height="13" class="b"/><rect x="1360" y="-20" width="40" height="20" class="g"/><rect x="1400" y="-26" width="10" height="26" class="o"/><rect x="1410" y="-20" width="30" height="20" class="g"/><rect x="1440" y="-26" width="10" height="26" class="o"/><rect x="1450" y="-20" width="32" height="20" class="g"/>
<rect x="1551" y="-26" width="9" height="26" class="o"/><rect x="1560" y="-33" width="68" height="33" class="r"/>
<rect x="152" y="-34" width="1476" height="34" fill="url(#p)"/>
</g>
<text x="6" y="1056" class="s" textLength="76">+ Majority</text>
<text x="6" y="1078" class="s" textLength="62">Majority</text>
<text x="152" y="1078" class="s" textLength="1476" lengthAdjust="spacingAndGlyphs">DEEFLGSQDEEEEAEGDEEQEPEQE--------TGKVRILSDISLPATSAITVQQAQQEQLQEEDVEQV----------QQEVKFVGADGNEVELTDEQRKEILSQLNQQQAGAAAGGVVMVLSEPEAEHVKQETDEKSLAGT--------EEEYDDSQ</text>
<rect x="152" y="1079" width="1476" height="1.5" fill="#888"/>
<rect x="375" y="1080" width="81" height="20" class="gap"/><rect x="789" y="1080" width="101" height="20" class="gap"/><rect x="1482" y="1080" width="69" height="20" class="gap"/>
<rect x="152" y="1099" width="1476" height="2" fill="#888"/>
<g class="n"><text x="213" y="1095">610</text><text x="305" y="1095">620</text><text x="481" y="1095">630</text><text x="573" y="1095">640</text><text x="665" y="1095">650</text><text x="757" y="1095">660</text><text x="950" y="1095">670</text><text x="1042" y="1095">680</text><text x="1135" y="1095">690</text><text x="1227" y="1095">700</text><text x="1319" y="1095">710</text><text x="1411" y="1095">720</text><text x="1577" y="1095">730</text></g>
<g class="s">
<text x="6" y="1110" textLength="109">D.melanogaster</text><text x="6" y="1121" textLength="86">D.seshellia</text><text x="6" y="1132" textLength="78">D.simulans</text><text x="6" y="1143" textLength="62">D.yakuba</text><text x="6" y="1154" textLength="62">D.erecta</text><text x="6" y="1165" textLength="86">D.ananassae</text><text x="6" y="1176" textLength="86">D.persimilis</text><text x="6" y="1187" textLength="117">D.pseudoobscura</text><text x="6" y="1198" textLength="70">D.virilis</text><text x="6" y="1209" textLength="86">D.grimshawi</text><text x="6" y="1220" textLength="94">D.willistoni</text>
</g>
<g class="s">
<text x="152" y="1110" textLength="1476" lengthAdjust="spacingAndGlyphs">DEEFLGSQDEEEEAEGDEEQEPEQ---------TGKVRILSDISLPATSAITVQQAQQEQLQEEDVEQV----------QQEVKFVGADGNEVELTDEQRKEILSQLNQQQAGATAGGVVMVLSEPEAEHVKQETDEKSLAGT--------EEEYDDSQ</text>
<text x="152" y="1121" textLength="1476" lengthAdjust="spacingAndGlyphs">DEEFLGSQDEEEEAEGDEEQEPEQ---------TGKVRILSDISLPATSAITVQQAHKEQLQEEDVEQV----------QQEVKFVGADGNEVELTDEQRKEILSQLNQQQAGAAAGGVVMVLSEPEAEHVKQETDEKSLAGT--------EEEYDDSQ</text>
<text x="152" y="1132" textLength="1476" lengthAdjust="spacingAndGlyphs">DEEFLGSQDEEEEVEGDEEQEPEQ---------TGKVRILSDISLPATSAITVQQAHQEQLQEEDVEQV----------QQEVKFVGADGNEVELTDEQRKEILSQLNQQQAGAAAGGVVMVLSEPEAEHVKQETDEKSLAGT--------EEEYDDSQ</text>
<text x="152" y="1143" textLength="1476" lengthAdjust="spacingAndGlyphs">DEEFLGSQDEEEEAEGDEEQEPEQ---------TGKVRILSDISLPATSAITVQQAHQEQLQEEEVDQV----------QQEVKFVGADGNEVELTEEQRKEILSQLNQQQAGAAAGGVVMVLSEPEAEPVKQETDEKSLAGT--------EEEYDDSQ</text>
<text x="152" y="1154" textLength="1476" lengthAdjust="spacingAndGlyphs">DEEFLGSQDEEDEAEGDEEQEPEQE-------QTGKVRILSDISLPATSAITVQQAHQEQLQEEDVDQV----------QQEVKFVGADGNEVELTDEQRKEILSQLNQQQAGAAAGGVVMVLSDPDAEPVKQEADEKSLAGT--------EEEYDDSQ</text>
<text x="152" y="1165" textLength="1476" lengthAdjust="spacingAndGlyphs">DEEFLGSQGEEDEDGEAGETEEEPE-------QSGKVRILSDISLPATSAITVHQEVEQ---------V----------QQEVKFVGADGNEVELTEEQRKEILSQLNQQQAGAAAGGVVMVLSEPDADQVKPETDEKSLAGT--------EEEYDDSQ</text>
<text x="152" y="1176" textLength="1476" lengthAdjust="spacingAndGlyphs">DEEYQGSQDDEEEEPEEEQEQEPEG-------KVRILSNISLPAHSAIAAQRVSADQEVEEEEHEDLEQ----------PQEVKFVGADGNEVELTDEQRKEILSQLNQQQAGAAAGGVVMVLSEPEAENAKQEGDVKSLAGT--------EEEYDDSQ</text>
<text x="152" y="1187" textLength="1476" lengthAdjust="spacingAndGlyphs">DEEYQGSQDDEEEEPEEEQEQEPEG-------KVRILSNISLPAHSAIAAQRVSADQEVEEEEHEDLEQ----------PQEVKFVGADGNEVELTDEQRKEILSQLNQQQAGAAAGGVVMVLSEPEAENAKQEGDVKSLAGT--------EEEYDDSQ</text>
<text x="152" y="1198" textLength="1476" lengthAdjust="spacingAndGlyphs">DEEYLGSQDEDEQLDDEDQEEEEEEAEE-EPIQEEKVRILSDISLPANSAMVQQQSRDEQEEAETEADADSEQLLQSQTQEQEVKFVGADGNEVELTEEQRKEILSQLNQQQAGAPSGGVVMVLSEPDVDDKQEGDAKSSAGTE--------EEEYDDSQ</text>
<text x="152" y="1209" textLength="1476" lengthAdjust="spacingAndGlyphs">DEEYLGSQDEDEQLEDDDQEEDEGEGEEPMQEAEEKVRILSDISLPATSAIGQQQSRDQREEAETESDQ------LLQTQEQEVKFVGADGNEVELTEEQRKEILSQLNQQQVGTPSGGVVMVLSEPDGDSKQEGDAKSSAGT---------EDEYDDSQ</text>
<text x="152" y="1220" textLength="1476" lengthAdjust="spacingAndGlyphs">DEEYLGSQVDEEEESQTEHDELQHD--------EGKVRILSDISLPTTHAIPLQQQQSELDTNLEQVEQ----------QEVKFVGADGNEVELTDEQRKEILSQLNQQQAGAPSGGVVMVLSEPEAADEKLQEGEVGEADGNKSQAGTEEEEYDDSQ</text>
</g>
<g class="s"><text x="1638" y="1110">735</text><text x="1638" y="1121">734</text><text x="1638" y="1132">735</text><text x="1638" y="1143">735</text><text x="1638" y="1154">735</text><text x="1638" y="1165">742</text><text x="1638" y="1176">758</text><text x="1638" y="1187">758</text><text x="1638" y="1198">776</text><text x="1638" y="1209">760</text><text x="1638" y="1220">752</text></g>
<rect x="152" y="1228" width="1236" height="5" fill="#8a3d96"/><rect x="1548" y="1228" width="82" height="5" fill="#1f48a0"/>
<rect x="901" y="1246" width="442" height="5" fill="#e9672a"/>
<text x="612" y="1260" class="lab">Q</text><text x="1148" y="1278" class="lab">HCR-4</text>

<!-- ================= BLOCK 6 ================= -->
<g transform="translate(0,1304)">
<rect x="153" y="-33" width="27" height="33" class="r"/><rect x="180" y="-26" width="9" height="26" class="o"/><rect x="189" y="-33" width="18" height="33" class="r"/><rect x="207" y="-13" width="8" height="13" class="b"/><rect x="215" y="-26" width="10" height="26" class="o"/><rect x="225" y="-20" width="10" height="20" class="g"/><rect x="235" y="-26" width="37" height="26" class="o"/><rect x="272" y="-6" width="8" height="6" class="d"/><rect x="280" y="-20" width="10" height="20" class="g"/><rect x="290" y="-26" width="8" height="26" class="o"/><rect x="298" y="-13" width="10" height="13" class="b"/>
<rect x="354" y="-13" width="9" height="13" class="b"/><rect x="363" y="-20" width="18" height="20" class="g"/><rect x="381" y="-33" width="18" height="33" class="r"/><rect x="399" y="-20" width="29" height="20" class="g"/><rect x="428" y="-13" width="9" height="13" class="b"/><rect x="437" y="-20" width="28" height="20" class="g"/><rect x="465" y="-33" width="9" height="33" class="r"/><rect x="474" y="-20" width="91" height="20" class="g"/><rect x="565" y="-33" width="18" height="33" class="r"/><rect x="583" y="-13" width="20" height="13" class="b"/><rect x="603" y="-26" width="17" height="26" class="o"/><rect x="620" y="-20" width="10" height="20" class="g"/>
<rect x="657" y="-26" width="9" height="26" class="o"/><rect x="666" y="-13" width="20" height="13" class="b"/><rect x="686" y="-33" width="11" height="33" class="r"/><rect x="697" y="-13" width="7" height="13" class="b"/><rect x="704" y="-26" width="8" height="26" class="o"/><rect x="712" y="-33" width="10" height="33" class="r"/><rect x="722" y="-26" width="10" height="26" class="o"/><rect x="732" y="-33" width="111" height="33" class="r"/><rect x="843" y="-26" width="9" height="26" class="o"/><rect x="852" y="-33" width="36" height="33" class="r"/><rect x="888" y="-13" width="8" height="13" class="b"/><rect x="896" y="-20" width="8" height="20" class="g"/><rect x="904" y="-13" width="8" height="13" class="b"/><rect x="912" y="-26" width="8" height="26" class="o"/><rect x="920" y="-20" width="15" height="20" class="g"/><rect x="935" y="-13" width="40" height="13" class="b"/><rect x="975" y="-20" width="15" height="20" class="g"/><rect x="990" y="-13" width="45" height="13" class="b"/><rect x="1035" y="-20" width="10" height="20" class="g"/><rect x="1045" y="-13" width="7" height="13" class="b"/><rect x="1052" y="-6" width="8" height="6" class="d"/><rect x="1060" y="-13" width="40" height="13" class="b"/>
<rect x="1256" y="-13" width="17" height="13" class="b"/><rect x="1273" y="-6" width="14" height="6" class="d"/><rect x="1287" y="-26" width="13" height="26" class="o"/><rect x="1300" y="-20" width="10" height="20" class="g"/><rect x="1310" y="-26" width="65" height="26" class="o"/><rect x="1375" y="-13" width="9" height="13" class="b"/><rect x="1384" y="-26" width="11" height="26" class="o"/><rect x="1395" y="-13" width="9" height="13" class="b"/><rect x="1404" y="-26" width="28" height="26" class="o"/>
<rect x="1505" y="-13" width="20" height="13" class="b"/><rect x="1525" y="-20" width="7" height="20" class="g"/><rect x="1532" y="-13" width="18" height="13" class="b"/><rect x="1550" y="-6" width="18" height="6" class="d"/><rect x="1568" y="-13" width="12" height="13" class="b"/><rect x="1580" y="-26" width="10" height="26" class="o"/><rect x="1590" y="-13" width="30" height="13" class="b"/><rect x="1620" y="-20" width="8" height="20" class="g"/>
<rect x="152" y="-34" width="1476" height="34" fill="url(#p)"/>
</g>
<text x="6" y="1292" class="s" textLength="76">+ Majority</text>
<text x="6" y="1314" class="s" textLength="62">Majority</text>
<text x="152" y="1314" class="s" textLength="1476" lengthAdjust="spacingAndGlyphs">IYSELAADSVESAKKN-----IADESKESIDNLEWAENLIAESEEQSNKEP---KLEKPRDDISEKLKELTGDWTEDENEDDVDDKPATAELASELAAKDPE-----------------PTVHEEEDDIDLALQSLHK--------GPEEAAVEKASEE</text>
<rect x="152" y="1315" width="1476" height="1.5" fill="#888"/>
<rect x="308" y="1316" width="46" height="20" class="gap"/><rect x="630" y="1316" width="27" height="20" class="gap"/><rect x="1101" y="1316" width="155" height="20" class="gap"/><rect x="1432" y="1316" width="73" height="20" class="gap"/>
<rect x="152" y="1335" width="1476" height="2" fill="#888"/>
<g class="n"><text x="193" y="1331">740</text><text x="285" y="1331">750</text><text x="423" y="1331">760</text><text x="516" y="1331">770</text><text x="608" y="1331">780</text><text x="727" y="1331">790</text><text x="819" y="1331">800</text><text x="911" y="1331">810</text><text x="1003" y="1331">820</text><text x="1090" y="1331">83</text><text x="1344" y="1331">840</text><text x="1512" y="1331">50</text><text x="1602" y="1331">860</text></g>
<g class="s">
<text x="6" y="1346" textLength="109">D.melanogaster</text><text x="6" y="1357" textLength="86">D.seshellia</text><text x="6" y="1368" textLength="78">D.simulans</text><text x="6" y="1379" textLength="62">D.yakuba</text><text x="6" y="1390" textLength="62">D.erecta</text><text x="6" y="1401" textLength="86">D.ananassae</text><text x="6" y="1412" textLength="86">D.persimilis</text><text x="6" y="1423" textLength="117">D.pseudoobscura</text><text x="6" y="1434" textLength="70">D.virilis</text><text x="6" y="1445" textLength="86">D.grimshawi</text><text x="6" y="1456" textLength="94">D.willistoni</text>
</g>
<g class="s">
<text x="152" y="1346" textLength="1476" lengthAdjust="spacingAndGlyphs">IYSELGAADSVESAKKN-----IADESKESIDNLEWAENLIAESEEQSNKEP---KSDKPRDDISEKLKELTGDWTEDENDDDVDDKPATAELASELANKDPE-----------------PTVHEEEDDIDLALQSLHK--------GPEEATEEKASEE</text>
<text x="152" y="1357" textLength="1476" lengthAdjust="spacingAndGlyphs">IYSELAAADSVESAKKN-----IADESKESIDNLEWAENLIAESEEQSNKEP---KLDKPRDDISEKLKELTGDWTEDENDDDVDDKPATAELASELATKDPE-----------------PTEHEEEDDIDLALQSLHK--------GPEEATVEKASEE</text>
<text x="152" y="1368" textLength="1476" lengthAdjust="spacingAndGlyphs">IYSELAAADSVESAKKN-----IADESKESIDNLEWAENLIAESEEQSNKEP---KLDKPRDDISEKLKELTGDWTEDENDDDVDDKPATAELASELATKDPE-----------------PTVHEEEDDIDLALHSLHK--------GPEEATVEKASEE</text>
<text x="152" y="1379" textLength="1476" lengthAdjust="spacingAndGlyphs">IYSELAAADSVESAKKN-----IADESKESVDNLEWAENLIAESEEQSNKEP---KLDKSRDDISEKLKELTGDWTEDENDDDVDDKPATAELASELAAKDPE-----------------PTVHEEEDDIDLALESLHK--------GPEEQAVEKASEE</text>
<text x="152" y="1390" textLength="1476" lengthAdjust="spacingAndGlyphs">IYSELAAADSVESTKKN-----IADESKESVDNLEWAENLIAESEEQSNKEP---KLDKSRDAISEKLKELTGDWTEDENDDDVDDKPATTELASELAAKDPE-----------------PTVQEEEDDIDLALQSLHK--------GPEEQAVEKACEE</text>
<text x="152" y="1401" textLength="1476" lengthAdjust="spacingAndGlyphs">IYSELAAADSVESGKKG-----IADESKESIDNLEWAENLIAESEEQTTKET---KLEKSRDDISEKLKELTGDWTEDENEDDVDDKPATAELASELATKESEP-------------AESQTADEEEDDIDLALQSMHK--------SSEQQATTKAGDE</text>
<text x="152" y="1412" textLength="1476" lengthAdjust="spacingAndGlyphs">IYSELGAADSVESGKKSETGTSAADESKESIDNLEWAENLIAESEEQNSKE----KPEKPRDDISEKLKELTGDWTEDENEDEMMDMEKPGSTETVLGKQQTEKTVET----QPMAEESNIVEEEEEEDDIDLALKSMHKGTDDTSSKTNSAAEQPAAAGG</text>
<text x="152" y="1423" textLength="1476" lengthAdjust="spacingAndGlyphs">IYSELGAADSVESGKKSETGTSAADESKESIDNLEWAENLIAESEEQNSKE----KPEKPRDDISEKLKELTGDWTEDENEDEMMDMEKPGSTETVLGKEQTEKTVET----QPMAEESNIVEEEEEEDDIDLALKSMHKGTDDTSSKTNSAAEQPAAAGG</text>
<text x="152" y="1434" textLength="1476" lengthAdjust="spacingAndGlyphs">IYSELGATGSVESSSKKSEAADESKESIDNLEWAENLISKHDLETEQNSKEP---KAEKRRDDISEKLKELTGDWTEDENEDEDDMNDKPATTELAAIVQSEPVTEKQ--NAADAAAEAIEDQPEPEDDIDLALESLHKEGDETEAATKDAAAATSSTAE</text>
<text x="152" y="1445" textLength="1476" lengthAdjust="spacingAndGlyphs">IYSELGATGSVESSSKKSEAADESKESIDNLEWAENLISKHDLEAEQTSKEP---KAEKRRDDISEKLKELTGDWTEDENEDDDDMVDKPVTTELRASVESETAAEKQTVEVAETVQEVVEEQPEPEDDIDLALESMHKGGDEPEATTTETIEEAATSSS</text>
<text x="152" y="1456" textLength="1476" lengthAdjust="spacingAndGlyphs">IYNELAGDSVESKKGEGGAVADESKESMDNLEWAENLISEQEMEAEQEESKEPKHTDEKRSDDISEKLKELTGDWSEDENEEEDDAGIEAAEADKPATAEIAVEVASS----------MTKQPKNDEATQSQVDEPVPAAMEVDQEQEEADDIDLALES</text>
</g>
<g class="s"><text x="1638" y="1346">862</text><text x="1638" y="1357">861</text><text x="1638" y="1368">862</text><text x="1638" y="1379">862</text><text x="1638" y="1390">862</text><text x="1638" y="1401">873</text><text x="1638" y="1412">910</text><text x="1638" y="1423">910</text><text x="1638" y="1434">931</text><text x="1638" y="1445">917</text><text x="1638" y="1456">901</text></g>
<rect x="153" y="1467" width="1475" height="5" fill="#1f48a0"/>
<text x="883" y="1503" class="lab">D/E</text>

<!-- ================= BLOCK 7 ================= -->
<g transform="translate(0,1553)">
<rect x="149" y="-13" width="66" height="13" class="b"/><rect x="170" y="-6" width="8" height="6" class="d"/><rect x="215" y="-20" width="18" height="20" class="g"/><rect x="233" y="-13" width="75" height="13" class="b"/><rect x="250" y="-6" width="8" height="6" class="d"/><rect x="308" y="-20" width="10" height="20" class="g"/><rect x="318" y="-13" width="10" height="13" class="b"/><rect x="328" y="-20" width="22" height="20" class="g"/><rect x="350" y="-13" width="75" height="13" class="b"/><rect x="380" y="-6" width="8" height="6" class="d"/><rect x="425" y="-20" width="13" height="20" class="g"/><rect x="438" y="-13" width="82" height="13" class="b"/><rect x="480" y="-6" width="8" height="6" class="d"/><rect x="520" y="-20" width="25" height="20" class="g"/><rect x="545" y="-13" width="25" height="13" class="b"/><rect x="550" y="-6" width="10" height="6" class="d"/><rect x="570" y="-20" width="18" height="20" class="g"/><rect x="588" y="-13" width="24" height="13" class="b"/><rect x="612" y="-26" width="8" height="26" class="o"/><rect x="620" y="-13" width="40" height="13" class="b"/><rect x="660" y="-26" width="8" height="26" class="o"/><rect x="668" y="-13" width="32" height="13" class="b"/><rect x="700" y="-20" width="7" height="20" class="g"/><rect x="707" y="-13" width="23" height="13" class="b"/>
<rect x="876" y="-13" width="39" height="13" class="b"/><rect x="915" y="-20" width="10" height="20" class="g"/><rect x="925" y="-13" width="75" height="13" class="b"/><rect x="1000" y="-26" width="10" height="26" class="o"/><rect x="1010" y="-20" width="50" height="20" class="g"/><rect x="1060" y="-33" width="20" height="33" class="r"/><rect x="1080" y="-26" width="15" height="26" class="o"/><rect x="1095" y="-20" width="18" height="20" class="g"/><rect x="1113" y="-33" width="9" height="33" class="r"/><rect x="1122" y="-26" width="8" height="26" class="o"/><rect x="1130" y="-33" width="9" height="33" class="r"/><rect x="1139" y="-20" width="6" height="20" class="g"/><rect x="1145" y="-33" width="55" height="33" class="r"/><rect x="1200" y="-26" width="45" height="26" class="o"/><rect x="1245" y="-20" width="15" height="20" class="g"/><rect x="1260" y="-13" width="70" height="13" class="b"/><rect x="1330" y="-20" width="15" height="20" class="g"/><rect x="1345" y="-13" width="115" height="13" class="b"/><rect x="1460" y="-20" width="20" height="20" class="g"/><rect x="1480" y="-13" width="23" height="13" class="b"/>
<rect x="149" y="-34" width="1479" height="34" fill="url(#p)"/>
</g>
<text x="6" y="1542" class="s" textLength="76">+ Majority</text>
<text x="6" y="1563" class="s" textLength="62">Majority</text>
<text x="150" y="1563" class="s" textLength="1474" lengthAdjust="spacingAndGlyphs">SVTSADDAVDAVANINSQPEKMDVDSEAADEKASKSEVEIKKEEELENDQEEFIKEDSPIPES----------------DPVAELSEAVAAAEGEDDVHLEADNIRKELLDELIAEAEKPDEEKDIVQSEENATTEALDRSVTDEDD-------------</text>
<rect x="150" y="1564" width="1474" height="1.5" fill="#888"/>
<rect x="730" y="1565" width="146" height="20" class="gap"/><rect x="1503" y="1565" width="120" height="20" class="gap"/>
<rect x="150" y="1584" width="1474" height="2" fill="#888"/>
<g class="n"><text x="218" y="1580">870</text><text x="310" y="1580">880</text><text x="403" y="1580">890</text><text x="495" y="1580">900</text><text x="587" y="1580">910</text><text x="680" y="1580">920</text><text x="918" y="1580">930</text><text x="1011" y="1580">940</text><text x="1103" y="1580">950</text><text x="1195" y="1580">960</text><text x="1288" y="1580">970</text><text x="1380" y="1580">980</text><text x="1472" y="1580">990</text></g>
<g class="s">
<text x="3" y="1596" textLength="128">D.melanogaster</text><text x="3" y="1607" textLength="100">D.seshellia</text><text x="3" y="1618" textLength="91">D.simulans</text><text x="3" y="1629" textLength="72">D.yakuba</text><text x="3" y="1640" textLength="72">D.erecta</text><text x="3" y="1651" textLength="100">D.ananassae</text><text x="3" y="1662" textLength="110">D.persimilis</text><text x="3" y="1673" textLength="138">D.pseudoobscura</text><text x="3" y="1684" textLength="82">D.virilis</text><text x="3" y="1695" textLength="100">D.grimshawi</text><text x="3" y="1706" textLength="108">D.willistoni</text>
</g>
<g class="s">
<text x="150" y="1596" textLength="1474" lengthAdjust="spacingAndGlyphs">SVTSADDAVDAVPNINSQPEKMDVDSEAADEKASKAEVQIKKEAELENDQEEFIKEDSPIPHS---------------DSVAELREAVTASEGEDDVHLEADNIRKELLDELIAEAEKPDQEKDIVQSEENATTEALDRSVTDEDD-------------</text>
<text x="150" y="1607" textLength="1474" lengthAdjust="spacingAndGlyphs">SVTSADDAVDAVANINSQPEKMDVDSEAGDEKASKSEVKIKKEVELENYQEEFIKEDSPIPHS---------------DPVAELSEAVAASEGEDDVHLEADNIHKELLDELIAEAEKPDEEKDIVQSEENATTEALDRSVTDEDD-------------</text>
<text x="150" y="1618" textLength="1474" lengthAdjust="spacingAndGlyphs">SVTSADDAVDAVANINSQPEKMDVDSEAADEKASKSEVKIKKEVKLENDQEEFIKEDSPIPHS---------------DPVAELREAVAASEGEDDVHLEADNIHKELLDELIAEAEKPDEEKDIVQSEENATTEALDRSVTGEDD-------------</text>
<text x="150" y="1629" textLength="1474" lengthAdjust="spacingAndGlyphs">SVASADDAVDSDANINSQPKKMDVDSEVANEKASKSEVKIKKEDELENDEEEFIKEDPPMPHS---------------DPVTELSEAVADAEGEDDVHLEADNIRKELLDELIAEAEKPDEEKDTVQPEESATTEALDRAVTDEDD-------------</text>
<text x="150" y="1640" textLength="1474" lengthAdjust="spacingAndGlyphs">SVTSADDAVDPDANINNQPEKMDLGSEEANEKASKSEVEIKKEDELENDEEEFIKEDSPMQHS---------------VPVTELSEAVVAAEGEDDVHLEAVNIHKKLLDELIAEAEKPDEEKDIVQPEETATTETLDRAVTDEDD-------------</text>
<text x="150" y="1651" textLength="1474" lengthAdjust="spacingAndGlyphs">PAEEEIEATAPVN-SQSDKMEVDADAAAEPKSSVVTDVQIKTEEGIETEQEEFIKEEVPISDTSL-------------PEVESEAPAASVAPEGEDDVHLEAENIRKELLDELIAGAEKPEDEPESINAPPGVETTSADVSTDAAEE------------</text>
<text x="150" y="1662" textLength="1474" lengthAdjust="spacingAndGlyphs">CEEEVGVEVPATSTTTRQDERMDVDTDTAEEDTAPAVAAATKTETDINIKRHEEEQEFIKEDAT--GADEATPDAEIDSSTALPANTDEHVVGEEEEHLETDNMRKELLDELIAQAESPEDDKSSTPLEAIEAAAATTVDTTDSTETDADLVPLT----</text>
<text x="150" y="1673" textLength="1474" lengthAdjust="spacingAndGlyphs">CEEEVGIEVPATSTTTRQDERMDVDTDTAEEDTAPAVAAATKTETDINIKRHEEEQEFIKEDATGAGAGVATPDAEIDSSTALPANTDEHVVGEEEEHLETDNMRKELLDELIAQAESPEDDKSSTPLEAIEAAAATTVDTTDSTETDADLVPLT----</text>
<text x="150" y="1684" textLength="1474" lengthAdjust="spacingAndGlyphs">IIQADSEAAVKMDVDELQQMSVKDEFVVVKKE---------DDPE---KEFIKEDAPTSVEAEAVENTNN--------QIATESIAEAGPATGIDDVNLETENIRKVLIDELIAEADAPDADTVASEQPEDVKEEQPTQLPEVD-GS-----------</text>
<text x="150" y="1695" textLength="1474" lengthAdjust="spacingAndGlyphs">ADVSQAASESEPAVVKDADESEKPSAELIKVESLDVKKEQEHERQEEFIKEDVPETTTVEAEDDVDIKAET--------DDINNETVAETNEEDAADANLETDSIRKGLIDELISESEAIRADAVANERPEEAEMDVPANQMPEIDGSE----------</text>
<text x="150" y="1706" textLength="1474" lengthAdjust="spacingAndGlyphs">LHKGIDKEDTTTATSTQMEVDKPAEESEQTDAPANNVLEAKQGETVQIKREDDSVEEEFIKED------------------PTQESQSNAVEAAAEDLETENIRKELLDELIAQAEKTDEEKQPSPEDTETTIATETTTDEQVDGTAITAATELSPDT</text>
</g>
<g class="s"><text x="1636" y="1596">993</text><text x="1636" y="1607">992</text><text x="1636" y="1618">993</text><text x="1636" y="1629">993</text><text x="1636" y="1640">993</text><text x="1636" y="1651">1006</text><text x="1636" y="1662">1064</text><text x="1636" y="1673">1066</text><text x="1636" y="1684">1057</text><text x="1636" y="1695">1058</text><text x="1636" y="1706">1041</text></g>
<rect x="148" y="1715" width="1482" height="5" fill="#1f48a0"/>
<text x="880" y="1749" class="lab">D/E</text>

<!-- ================= BLOCK 8 ================= -->
<g transform="translate(0,1791)">
<rect x="213" y="-13" width="20" height="13" class="b"/><rect x="233" y="-20" width="8" height="20" class="g"/><rect x="241" y="-13" width="18" height="13" class="b"/><rect x="259" y="-20" width="8" height="20" class="g"/><rect x="267" y="-13" width="10" height="13" class="b"/><rect x="277" y="-20" width="7" height="20" class="g"/><rect x="284" y="-13" width="14" height="13" class="b"/><rect x="298" y="-6" width="20" height="6" class="d"/><rect x="318" y="-13" width="40" height="13" class="b"/><rect x="358" y="-20" width="8" height="20" class="g"/><rect x="366" y="-13" width="54" height="13" class="b"/><rect x="400" y="-6" width="10" height="6" class="d"/><rect x="420" y="-20" width="8" height="20" class="g"/><rect x="428" y="-13" width="92" height="13" class="b"/><rect x="520" y="-26" width="8" height="26" class="o"/><rect x="528" y="-13" width="38" height="13" class="b"/><rect x="566" y="-20" width="8" height="20" class="g"/><rect x="574" y="-13" width="10" height="13" class="b"/><rect x="584" y="-20" width="8" height="20" class="g"/><rect x="592" y="-13" width="70" height="13" class="b"/><rect x="620" y="-6" width="10" height="6" class="d"/><rect x="662" y="-20" width="8" height="20" class="g"/><rect x="670" y="-13" width="95" height="13" class="b"/><rect x="765" y="-20" width="8" height="20" class="g"/><rect x="773" y="-13" width="12" height="13" class="b"/><rect x="785" y="-20" width="8" height="20" class="g"/><rect x="793" y="-13" width="47" height="13" class="b"/><rect x="840" y="-20" width="40" height="20" class="g"/><rect x="880" y="-26" width="8" height="26" class="o"/><rect x="888" y="-33" width="8" height="33" class="r"/><rect x="896" y="-26" width="8" height="26" class="o"/><rect x="904" y="-33" width="36" height="33" class="r"/><rect x="940" y="-26" width="32" height="26" class="o"/><rect x="972" y="-33" width="8" height="33" class="r"/><rect x="980" y="-26" width="10" height="26" class="o"/><rect x="990" y="-33" width="8" height="33" class="r"/><rect x="998" y="-26" width="35" height="26" class="o"/><rect x="1033" y="-20" width="10" height="20" class="g"/><rect x="1043" y="-26" width="100" height="26" class="o"/><rect x="1143" y="-20" width="8" height="20" class="g"/><rect x="1151" y="-26" width="14" height="26" class="o"/>
<rect x="150" y="-34" width="1020" height="34" fill="url(#p)"/>
</g>
<text x="3" y="1780" class="s" textLength="88">+ Majority</text>
<text x="3" y="1801" class="s" textLength="72">Majority</text>
<text x="150" y="1801" class="s" textLength="1041" lengthAdjust="spacingAndGlyphs">-------LVPPTQLSTEEMEIDEPATEKAAENNEDTRTADEKEAVEDKPNDTQDVATAEKATLESAKAGDEVASGEAASVDKVKSLISEWGDDDEDEDENGVSAAAKEEL---</text>
<rect x="150" y="1802" width="1041" height="1.5" fill="#888"/>
<rect x="150" y="1803" width="63" height="20" class="gap"/>
<rect x="213" y="1822" width="950" height="2" fill="#888"/>
<g class="n"><text x="273" y="1818">1000</text><text x="365" y="1818">1010</text><text x="458" y="1818">1020</text><text x="550" y="1818">1030</text><text x="642" y="1818">1040</text><text x="734" y="1818">1050</text><text x="826" y="1818">1060</text><text x="918" y="1818">1070</text><text x="1011" y="1818">1080</text><text x="1103" y="1818">1090</text></g>
<g class="s">
<text x="3" y="1834" textLength="128">D.melanogaster</text><text x="3" y="1845" textLength="100">D.seshellia</text><text x="3" y="1856" textLength="91">D.simulans</text><text x="3" y="1867" textLength="72">D.yakuba</text><text x="3" y="1878" textLength="72">D.erecta</text><text x="3" y="1889" textLength="100">D.ananassae</text><text x="3" y="1900" textLength="110">D.persimilis</text><text x="3" y="1911" textLength="138">D.pseudoobscura</text><text x="3" y="1922" textLength="82">D.virilis</text><text x="3" y="1933" textLength="100">D.grimshawi</text><text x="3" y="1944" textLength="108">D.willistoni</text>
</g>
<g class="s">
<text x="150" y="1834" textLength="1012" lengthAdjust="spacingAndGlyphs">-------LVPPTQVSTEQMEIDEPAAEKAAENNEDTRTADEKEAVEDKPNQTQDVTTAEKPTLESAKAGDEATSGEAASVDKVKSLISEWGDDDEDEDENGVSAAAKEEL</text>
<text x="150" y="1845" textLength="1012" lengthAdjust="spacingAndGlyphs">-------LVPPTQLSTEQMDIDETAAAKPAENNEDTRTADEKEAVEDKPNQTQDVATAEKATIESAKAGDEVASGEAASVDKVKSLISEWGDDDEDEDENGVSAAAKEEL</text>
<text x="150" y="1856" textLength="1012" lengthAdjust="spacingAndGlyphs">-------LVPPTQLSTEQMEIDEPAAEKAAENNEDTRTADEKEAVEDKPNQTQDVATAEKATIESAKAGDEVASGEAASVDKVKSLISEWGDDDEDEDENGVSAAAKEEL</text>
<text x="150" y="1867" textLength="1012" lengthAdjust="spacingAndGlyphs">-------LVPPTQLSTDPMEIDDPATETVAENSEDTRTTDEKDAAEDKPNEKEDVATTEKATLESAKAGDEAASGEAASVDKVKSLISEWGDDDEDEDENGVSAAAKEEL</text>
<text x="150" y="1878" textLength="1012" lengthAdjust="spacingAndGlyphs">-------LVPPTQLSTDQMEIDEPVTEKVAENNEDTRTTDEKEADEDKPNETQDVVTTEEATLESAKAGDEATSGEAASVDKVKSLISEWGDDDEDEDENGVSAAAKEEL</text>
<text x="150" y="1889" textLength="1012" lengthAdjust="spacingAndGlyphs">-------ELVPPTQMPVEQSIAMDVDDSEAEKPSENKDESKAEEDTQQIPLESTEIAEKTKPEATTSDKVETEDAPAADKVKSLISEWVDDEDDEDENGVSAAAKAEL</text>
<text x="150" y="1900" textLength="1012" lengthAdjust="spacingAndGlyphs">-------QLPADQPSQAEIIEPEAETTAENNNDGKTTVAVEAASKEAKVDDTPNSSSDAGPATDKTSASAIVEVEEAASADKVKSLISEWADDDEDEDENGVSAAAKAEL</text>
<text x="150" y="1911" textLength="1012" lengthAdjust="spacingAndGlyphs">-------QLPADQPSQAEIIEPEAETTAENNNDGKTTVAVEAASKEAKVDDTPNSSSDAGAATDKTSASAIVEVEEAASADKVKSLISEWADDDEDEDENGVSAAAKAEL</text>
<text x="150" y="1922" textLength="1012" lengthAdjust="spacingAndGlyphs">-----------------EALQLDATKAVMAAEESANNNEEKAEGSPTTTTVASDATEEKPSTSDAVDVDGKPQALTGTQEKLKSLMNEWVDEDDDNEDENGVSAEAKEQL</text>
<text x="150" y="1933" textLength="1012" lengthAdjust="spacingAndGlyphs">------------AMKEEDAPKAVETAEQSEAHNNEQKAEETTTTAAVVDAVAATAEEKPNSSDEGAALDGKAQSPTGTQEKLKSLMSEWVDDEDDNDDENDHGVNAAAKEQL</text>
<text x="150" y="1944" textLength="1012" lengthAdjust="spacingAndGlyphs">DEVKLSTEEDSEANKTSATSDQETREEEAKPSSGDSAAASSEDDVVADVADNKVSVKSPAATETASAKTLTEEAQATSDVDKVKSLISDWVDEDEEEDENAVSAAAKEEL</text>
</g>
<g class="s"><text x="1201" y="1834">1096</text><text x="1201" y="1845">1095</text><text x="1201" y="1856">1096</text><text x="1201" y="1867">1096</text><text x="1201" y="1878">1096</text><text x="1201" y="1889">1109</text><text x="1201" y="1900">1167</text><text x="1201" y="1911">1169</text><text x="1201" y="1922">1150</text><text x="1201" y="1933">1158</text><text x="1201" y="1944">1151</text></g>
<rect x="148" y="1953" width="1044" height="5" fill="#1f48a0"/>
<text x="661" y="1990" class="lab">D/E</text>
</svg>
</body></html>
